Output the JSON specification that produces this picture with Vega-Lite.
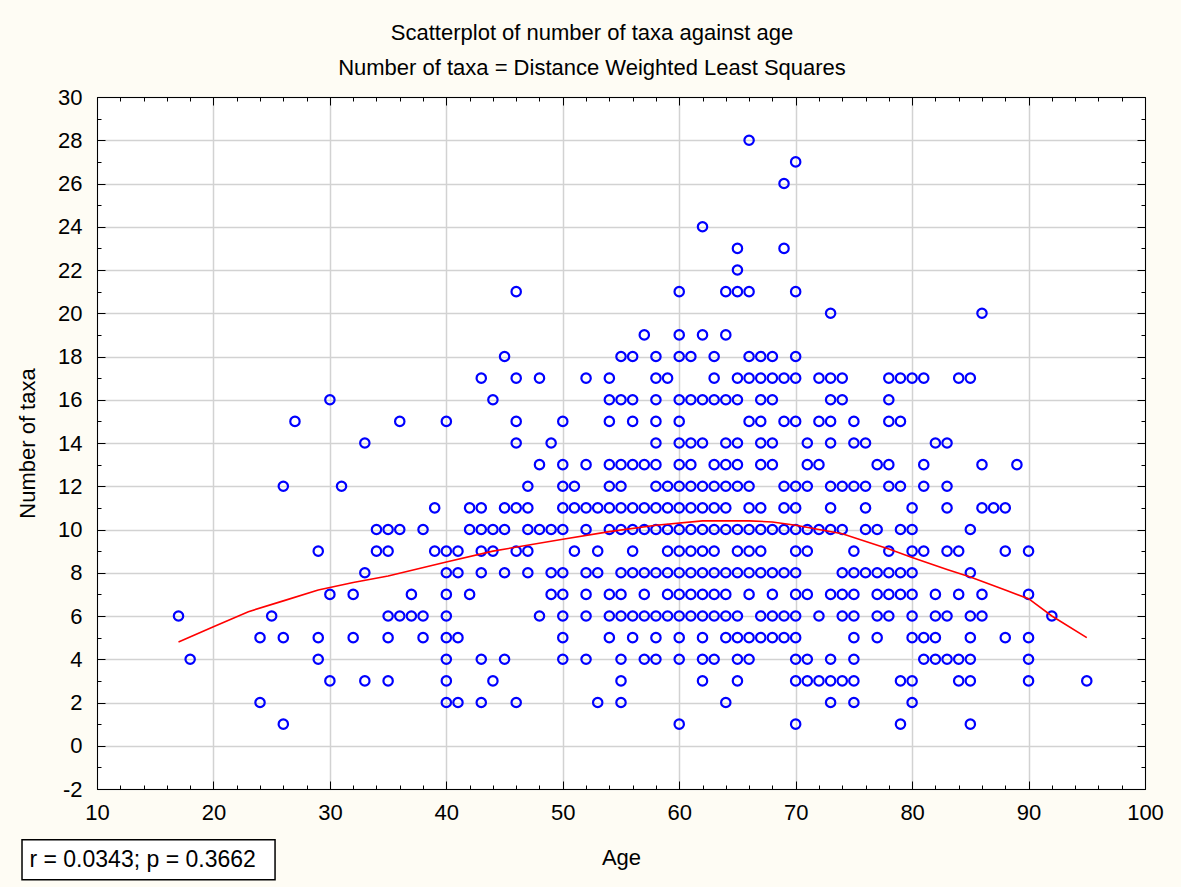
{
  "$schema": "https://vega.github.io/schema/vega-lite/v6.json",
  "width": 1048,
  "height": 692,
  "autosize": {"type": "none"},
  "padding": {"left": 97, "top": 97, "right": 36, "bottom": 98},
  "background": "#FEFCF4",
  "config": {
    "view": {"stroke": "black", "strokeWidth": 1, "fill": "white"},
    "font": "Liberation Sans",
    "axis": {
      "labelFont": "Liberation Sans", "titleFont": "Liberation Sans",
      "labelFontSize": 22, "titleFontSize": 22, "titleFontWeight": "normal",
      "labelColor": "black", "titleColor": "black",
      "domainColor": "black", "tickColor": "black",
      "gridColor": "#d2d2d2", "gridWidth": 1.5
    }
  },
  "title": {
    "text": ["Scatterplot of number of taxa against age", "Number of taxa = Distance Weighted Least Squares"],
    "font": "Liberation Sans", "fontSize": 22, "fontWeight": "normal", "color": "black",
    "lineHeight": 35, "offset": 6, "dx": -29, "anchor": "middle"
  },
  "datasets": {
    "trend": [
      {"age": 17, "fit": 4.8}, {"age": 20, "fit": 5.5}, {"age": 23, "fit": 6.2}, {"age": 26, "fit": 6.7},
      {"age": 29, "fit": 7.2}, {"age": 32, "fit": 7.55}, {"age": 35, "fit": 7.85}, {"age": 40, "fit": 8.5},
      {"age": 44, "fit": 9.0}, {"age": 50, "fit": 9.55}, {"age": 54, "fit": 9.9}, {"age": 58, "fit": 10.2},
      {"age": 62, "fit": 10.4}, {"age": 66, "fit": 10.4}, {"age": 68, "fit": 10.35}, {"age": 70, "fit": 10.2},
      {"age": 74, "fit": 9.8}, {"age": 78, "fit": 9.1}, {"age": 80, "fit": 8.7}, {"age": 83, "fit": 8.15},
      {"age": 85, "fit": 7.8}, {"age": 88, "fit": 7.2}, {"age": 90, "fit": 6.8}, {"age": 92, "fit": 6.0},
      {"age": 95, "fit": 5.0}
    ],
    "points": [
      {"age":17,"taxa":6},{"age":18,"taxa":4},
      {"age":24,"taxa":5},{"age":24,"taxa":2},{"age":25,"taxa":6},
      {"age":26,"taxa":12},{"age":26,"taxa":5},{"age":26,"taxa":1},{"age":27,"taxa":15},
      {"age":29,"taxa":9},{"age":29,"taxa":5},{"age":29,"taxa":4},
      {"age":30,"taxa":16},{"age":30,"taxa":7},{"age":30,"taxa":3},{"age":31,"taxa":12},
      {"age":32,"taxa":7},{"age":32,"taxa":5},
      {"age":33,"taxa":14},{"age":33,"taxa":8},{"age":33,"taxa":3},
      {"age":34,"taxa":10},{"age":34,"taxa":9},
      {"age":35,"taxa":10},{"age":35,"taxa":9},{"age":35,"taxa":6},{"age":35,"taxa":5},{"age":35,"taxa":3},
      {"age":36,"taxa":15},{"age":36,"taxa":10},{"age":36,"taxa":6},
      {"age":37,"taxa":7},{"age":37,"taxa":6},
      {"age":38,"taxa":10},{"age":38,"taxa":6},{"age":38,"taxa":5},
      {"age":39,"taxa":11},{"age":39,"taxa":9},
      {"age":40,"taxa":15},{"age":40,"taxa":9},{"age":40,"taxa":8},{"age":40,"taxa":7},{"age":40,"taxa":6},{"age":40,"taxa":5},{"age":40,"taxa":4},{"age":40,"taxa":3},{"age":40,"taxa":2},
      {"age":41,"taxa":9},{"age":41,"taxa":8},{"age":41,"taxa":5},{"age":41,"taxa":2},
      {"age":42,"taxa":11},{"age":42,"taxa":10},{"age":42,"taxa":7},
      {"age":43,"taxa":17},{"age":43,"taxa":11},{"age":43,"taxa":10},{"age":43,"taxa":9},{"age":43,"taxa":8},{"age":43,"taxa":4},{"age":43,"taxa":2},
      {"age":44,"taxa":16},{"age":44,"taxa":10},{"age":44,"taxa":9},{"age":44,"taxa":3},
      {"age":45,"taxa":18},{"age":45,"taxa":11},{"age":45,"taxa":10},{"age":45,"taxa":8},{"age":45,"taxa":4},
      {"age":46,"taxa":21},{"age":46,"taxa":17},{"age":46,"taxa":15},{"age":46,"taxa":14},{"age":46,"taxa":11},{"age":46,"taxa":9},{"age":46,"taxa":2},
      {"age":47,"taxa":12},{"age":47,"taxa":11},{"age":47,"taxa":10},{"age":47,"taxa":9},{"age":47,"taxa":8},
      {"age":48,"taxa":17},{"age":48,"taxa":13},{"age":48,"taxa":10},{"age":48,"taxa":6},
      {"age":49,"taxa":14},{"age":49,"taxa":10},{"age":49,"taxa":8},{"age":49,"taxa":7},
      {"age":50,"taxa":15},{"age":50,"taxa":13},{"age":50,"taxa":12},{"age":50,"taxa":11},{"age":50,"taxa":10},{"age":50,"taxa":8},{"age":50,"taxa":7},{"age":50,"taxa":6},{"age":50,"taxa":5},{"age":50,"taxa":4},
      {"age":51,"taxa":12},{"age":51,"taxa":11},{"age":51,"taxa":9},
      {"age":52,"taxa":17},{"age":52,"taxa":13},{"age":52,"taxa":11},{"age":52,"taxa":10},{"age":52,"taxa":8},{"age":52,"taxa":7},{"age":52,"taxa":6},{"age":52,"taxa":4},
      {"age":53,"taxa":11},{"age":53,"taxa":9},{"age":53,"taxa":8},{"age":53,"taxa":2},
      {"age":54,"taxa":17},{"age":54,"taxa":16},{"age":54,"taxa":15},{"age":54,"taxa":13},{"age":54,"taxa":12},{"age":54,"taxa":11},{"age":54,"taxa":10},{"age":54,"taxa":7},{"age":54,"taxa":6},{"age":54,"taxa":5},
      {"age":55,"taxa":18},{"age":55,"taxa":16},{"age":55,"taxa":13},{"age":55,"taxa":12},{"age":55,"taxa":11},{"age":55,"taxa":10},{"age":55,"taxa":8},{"age":55,"taxa":7},{"age":55,"taxa":6},{"age":55,"taxa":4},{"age":55,"taxa":3},{"age":55,"taxa":2},
      {"age":56,"taxa":18},{"age":56,"taxa":16},{"age":56,"taxa":15},{"age":56,"taxa":13},{"age":56,"taxa":11},{"age":56,"taxa":10},{"age":56,"taxa":9},{"age":56,"taxa":8},{"age":56,"taxa":6},{"age":56,"taxa":5},
      {"age":57,"taxa":19},{"age":57,"taxa":13},{"age":57,"taxa":11},{"age":57,"taxa":10},{"age":57,"taxa":8},{"age":57,"taxa":7},{"age":57,"taxa":6},{"age":57,"taxa":4},
      {"age":58,"taxa":18},{"age":58,"taxa":17},{"age":58,"taxa":16},{"age":58,"taxa":15},{"age":58,"taxa":14},{"age":58,"taxa":13},{"age":58,"taxa":12},{"age":58,"taxa":11},{"age":58,"taxa":10},{"age":58,"taxa":8},{"age":58,"taxa":6},{"age":58,"taxa":5},{"age":58,"taxa":4},
      {"age":59,"taxa":17},{"age":59,"taxa":12},{"age":59,"taxa":11},{"age":59,"taxa":10},{"age":59,"taxa":9},{"age":59,"taxa":8},{"age":59,"taxa":7},{"age":59,"taxa":6},
      {"age":60,"taxa":21},{"age":60,"taxa":19},{"age":60,"taxa":18},{"age":60,"taxa":16},{"age":60,"taxa":15},{"age":60,"taxa":14},{"age":60,"taxa":13},{"age":60,"taxa":12},{"age":60,"taxa":11},{"age":60,"taxa":10},{"age":60,"taxa":9},{"age":60,"taxa":8},{"age":60,"taxa":7},{"age":60,"taxa":6},{"age":60,"taxa":5},{"age":60,"taxa":4},{"age":60,"taxa":1},
      {"age":61,"taxa":18},{"age":61,"taxa":16},{"age":61,"taxa":14},{"age":61,"taxa":13},{"age":61,"taxa":12},{"age":61,"taxa":11},{"age":61,"taxa":10},{"age":61,"taxa":9},{"age":61,"taxa":8},{"age":61,"taxa":7},{"age":61,"taxa":6},
      {"age":62,"taxa":24},{"age":62,"taxa":19},{"age":62,"taxa":16},{"age":62,"taxa":14},{"age":62,"taxa":12},{"age":62,"taxa":11},{"age":62,"taxa":10},{"age":62,"taxa":9},{"age":62,"taxa":8},{"age":62,"taxa":7},{"age":62,"taxa":6},{"age":62,"taxa":5},{"age":62,"taxa":4},{"age":62,"taxa":3},
      {"age":63,"taxa":18},{"age":63,"taxa":17},{"age":63,"taxa":16},{"age":63,"taxa":13},{"age":63,"taxa":12},{"age":63,"taxa":11},{"age":63,"taxa":10},{"age":63,"taxa":9},{"age":63,"taxa":8},{"age":63,"taxa":7},{"age":63,"taxa":6},{"age":63,"taxa":4},
      {"age":64,"taxa":21},{"age":64,"taxa":19},{"age":64,"taxa":16},{"age":64,"taxa":14},{"age":64,"taxa":13},{"age":64,"taxa":12},{"age":64,"taxa":11},{"age":64,"taxa":10},{"age":64,"taxa":8},{"age":64,"taxa":7},{"age":64,"taxa":6},{"age":64,"taxa":5},{"age":64,"taxa":2},
      {"age":65,"taxa":23},{"age":65,"taxa":22},{"age":65,"taxa":21},{"age":65,"taxa":17},{"age":65,"taxa":16},{"age":65,"taxa":14},{"age":65,"taxa":13},{"age":65,"taxa":12},{"age":65,"taxa":10},{"age":65,"taxa":9},{"age":65,"taxa":8},{"age":65,"taxa":6},{"age":65,"taxa":5},{"age":65,"taxa":4},{"age":65,"taxa":3},
      {"age":66,"taxa":28},{"age":66,"taxa":21},{"age":66,"taxa":18},{"age":66,"taxa":17},{"age":66,"taxa":15},{"age":66,"taxa":12},{"age":66,"taxa":11},{"age":66,"taxa":10},{"age":66,"taxa":9},{"age":66,"taxa":8},{"age":66,"taxa":7},{"age":66,"taxa":5},{"age":66,"taxa":4},
      {"age":67,"taxa":18},{"age":67,"taxa":17},{"age":67,"taxa":16},{"age":67,"taxa":15},{"age":67,"taxa":14},{"age":67,"taxa":13},{"age":67,"taxa":11},{"age":67,"taxa":10},{"age":67,"taxa":9},{"age":67,"taxa":8},{"age":67,"taxa":6},{"age":67,"taxa":5},
      {"age":68,"taxa":18},{"age":68,"taxa":17},{"age":68,"taxa":16},{"age":68,"taxa":14},{"age":68,"taxa":13},{"age":68,"taxa":10},{"age":68,"taxa":8},{"age":68,"taxa":7},{"age":68,"taxa":6},{"age":68,"taxa":5},
      {"age":69,"taxa":26},{"age":69,"taxa":23},{"age":69,"taxa":17},{"age":69,"taxa":15},{"age":69,"taxa":12},{"age":69,"taxa":11},{"age":69,"taxa":10},{"age":69,"taxa":8},{"age":69,"taxa":6},{"age":69,"taxa":5},
      {"age":70,"taxa":27},{"age":70,"taxa":21},{"age":70,"taxa":18},{"age":70,"taxa":17},{"age":70,"taxa":15},{"age":70,"taxa":12},{"age":70,"taxa":11},{"age":70,"taxa":10},{"age":70,"taxa":9},{"age":70,"taxa":8},{"age":70,"taxa":7},{"age":70,"taxa":6},{"age":70,"taxa":5},{"age":70,"taxa":4},{"age":70,"taxa":3},{"age":70,"taxa":1},
      {"age":71,"taxa":14},{"age":71,"taxa":13},{"age":71,"taxa":12},{"age":71,"taxa":10},{"age":71,"taxa":9},{"age":71,"taxa":7},{"age":71,"taxa":4},{"age":71,"taxa":3},
      {"age":72,"taxa":17},{"age":72,"taxa":15},{"age":72,"taxa":13},{"age":72,"taxa":10},{"age":72,"taxa":6},{"age":72,"taxa":3},
      {"age":73,"taxa":20},{"age":73,"taxa":17},{"age":73,"taxa":16},{"age":73,"taxa":15},{"age":73,"taxa":14},{"age":73,"taxa":12},{"age":73,"taxa":11},{"age":73,"taxa":10},{"age":73,"taxa":7},{"age":73,"taxa":4},{"age":73,"taxa":3},{"age":73,"taxa":2},
      {"age":74,"taxa":17},{"age":74,"taxa":16},{"age":74,"taxa":12},{"age":74,"taxa":10},{"age":74,"taxa":8},{"age":74,"taxa":7},{"age":74,"taxa":6},{"age":74,"taxa":3},
      {"age":75,"taxa":15},{"age":75,"taxa":14},{"age":75,"taxa":12},{"age":75,"taxa":9},{"age":75,"taxa":8},{"age":75,"taxa":7},{"age":75,"taxa":6},{"age":75,"taxa":5},{"age":75,"taxa":4},{"age":75,"taxa":3},{"age":75,"taxa":2},
      {"age":76,"taxa":14},{"age":76,"taxa":12},{"age":76,"taxa":11},{"age":76,"taxa":10},{"age":76,"taxa":8},
      {"age":77,"taxa":13},{"age":77,"taxa":10},{"age":77,"taxa":8},{"age":77,"taxa":7},{"age":77,"taxa":6},{"age":77,"taxa":5},
      {"age":78,"taxa":17},{"age":78,"taxa":16},{"age":78,"taxa":15},{"age":78,"taxa":13},{"age":78,"taxa":12},{"age":78,"taxa":9},{"age":78,"taxa":8},{"age":78,"taxa":7},{"age":78,"taxa":6},
      {"age":79,"taxa":17},{"age":79,"taxa":15},{"age":79,"taxa":12},{"age":79,"taxa":10},{"age":79,"taxa":8},{"age":79,"taxa":7},{"age":79,"taxa":3},{"age":79,"taxa":1},
      {"age":80,"taxa":17},{"age":80,"taxa":11},{"age":80,"taxa":10},{"age":80,"taxa":9},{"age":80,"taxa":8},{"age":80,"taxa":7},{"age":80,"taxa":6},{"age":80,"taxa":5},{"age":80,"taxa":3},{"age":80,"taxa":2},
      {"age":81,"taxa":17},{"age":81,"taxa":13},{"age":81,"taxa":12},{"age":81,"taxa":9},{"age":81,"taxa":5},{"age":81,"taxa":4},
      {"age":82,"taxa":14},{"age":82,"taxa":7},{"age":82,"taxa":6},{"age":82,"taxa":5},{"age":82,"taxa":4},
      {"age":83,"taxa":14},{"age":83,"taxa":12},{"age":83,"taxa":11},{"age":83,"taxa":9},{"age":83,"taxa":6},{"age":83,"taxa":4},
      {"age":84,"taxa":17},{"age":84,"taxa":9},{"age":84,"taxa":7},{"age":84,"taxa":4},{"age":84,"taxa":3},
      {"age":85,"taxa":17},{"age":85,"taxa":10},{"age":85,"taxa":8},{"age":85,"taxa":6},{"age":85,"taxa":5},{"age":85,"taxa":4},{"age":85,"taxa":3},{"age":85,"taxa":1},
      {"age":86,"taxa":20},{"age":86,"taxa":13},{"age":86,"taxa":11},{"age":86,"taxa":7},{"age":86,"taxa":6},
      {"age":87,"taxa":11},
      {"age":88,"taxa":11},{"age":88,"taxa":9},{"age":88,"taxa":5},
      {"age":89,"taxa":13},
      {"age":90,"taxa":9},{"age":90,"taxa":7},{"age":90,"taxa":5},{"age":90,"taxa":4},{"age":90,"taxa":3},
      {"age":92,"taxa":6},{"age":95,"taxa":3}
    ]
  },
  "resolve": {"axis": {"x": "independent", "y": "independent"}},
  "layer": [
    {
      "data": {"name": "points"},
      "mark": {"type": "point", "shape": "circle", "filled": false, "stroke": "#0000ff", "strokeWidth": 2.2, "size": 88, "opacity": 1},
      "encoding": {
        "x": {
          "field": "age", "type": "quantitative",
          "scale": {"domain": [10, 100], "nice": false, "zero": false},
          "axis": {
            "title": "Age", "orient": "bottom",
            "values": [10,12,14,16,18,20,22,24,26,28,30,32,34,36,38,40,42,44,46,48,50,52,54,56,58,60,62,64,66,68,70,72,74,76,78,80,82,84,86,88,90,92,94,96,98,100],
            "labelExpr": "datum.value % 10 === 0 ? datum.label : ''",
            "tickSize": {"condition": {"test": "datum.value % 10 === 0", "value": -8}, "value": -4},
            "gridOpacity": {"condition": {"test": "datum.value % 10 === 0", "value": 1}, "value": 0},
            "labelPadding": 21, "titlePadding": 20, "labelFlush": false, "labelOverlap": false
          }
        },
        "y": {
          "field": "taxa", "type": "quantitative",
          "scale": {"domain": [-2, 30], "nice": false, "zero": false},
          "axis": {
            "title": "Number of taxa", "orient": "left",
            "values": [-2,-1,0,1,2,3,4,5,6,7,8,9,10,11,12,13,14,15,16,17,18,19,20,21,22,23,24,25,26,27,28,29,30],
            "labelExpr": "datum.value % 2 === 0 ? replace(datum.label, '\u2212', '-') : ''",
            "tickSize": {"condition": {"test": "datum.value % 2 === 0", "value": -8}, "value": -4},
            "gridOpacity": {"condition": {"test": "datum.value % 2 === 0", "value": 1}, "value": 0},
            "labelPadding": 23, "titlePadding": 18, "labelFlush": false, "labelOverlap": false
          }
        }
      }
    },
    {
      "data": {"name": "trend"},
      "mark": {"type": "line", "color": "#ff0000", "strokeWidth": 1.6},
      "encoding": {
        "x": {
          "field": "age", "type": "quantitative",
          "scale": {"domain": [10, 100], "nice": false, "zero": false},
          "axis": {
            "orient": "top", "title": null, "labels": false, "grid": false,
            "values": [10,12,14,16,18,20,22,24,26,28,30,32,34,36,38,40,42,44,46,48,50,52,54,56,58,60,62,64,66,68,70,72,74,76,78,80,82,84,86,88,90,92,94,96,98,100],
            "tickSize": {"condition": {"test": "datum.value % 10 === 0", "value": -8}, "value": -4}
          }
        },
        "y": {
          "field": "fit", "type": "quantitative",
          "scale": {"domain": [-2, 30], "nice": false, "zero": false},
          "axis": {
            "orient": "right", "title": null, "labels": false, "grid": false,
            "values": [-2,-1,0,1,2,3,4,5,6,7,8,9,10,11,12,13,14,15,16,17,18,19,20,21,22,23,24,25,26,27,28,29,30],
            "tickSize": {"condition": {"test": "datum.value % 2 === 0", "value": -8}, "value": -4}
          }
        }
      }
    },
    {
      "data": {"values": [{}]},
      "mark": {"type": "rect", "fill": "white", "stroke": "black", "strokeWidth": 1.5, "clip": false},
      "encoding": {
        "x": {"datum": 3.56, "type": "quantitative", "scale": {"domain": [10, 100], "nice": false, "zero": false}, "axis": null},
        "x2": {"datum": 25.29},
        "y": {"datum": -4.35, "type": "quantitative", "scale": {"domain": [-2, 30], "nice": false, "zero": false}, "axis": null},
        "y2": {"datum": -6.2}
      }
    },
    {
      "data": {"values": [{}]},
      "mark": {"type": "text", "text": "r = 0.0343; p = 0.3662", "align": "left", "baseline": "middle", "font": "Liberation Sans", "fontSize": 23, "color": "black", "clip": false},
      "encoding": {
        "x": {"datum": 4.2, "type": "quantitative", "scale": {"domain": [10, 100], "nice": false, "zero": false}, "axis": null},
        "y": {"datum": -5.28, "type": "quantitative", "scale": {"domain": [-2, 30], "nice": false, "zero": false}, "axis": null}
      }
    }
  ]
}
